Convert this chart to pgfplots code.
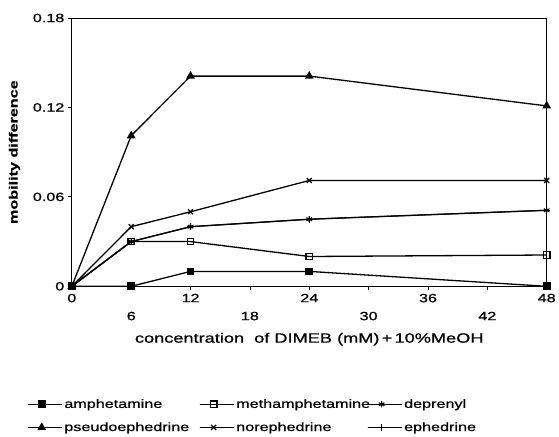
\documentclass[border=0pt]{standalone}
\usepackage{fontspec}
\setmainfont{Liberation Sans}[FakeStretch=1.35, FakeBold=0.8]
\usepackage{pgfplots}
\pgfplotsset{compat=1.18}
\begin{document}
\begin{tikzpicture}
\begin{axis}[
  scale only axis, width=476pt, height=269pt,
  xmin=0, xmax=48, ymin=0, ymax=0.18,
  clip=false,
  axis line style={line width=0.9pt},
  tick pos=left,
  tick align=outside, major tick length=4pt,
  tick style={black, line width=0.8pt},
  xtick={0,12,24,36,48}, xticklabels={0,12,24,36,48},
  extra x ticks={6,18,30,42}, extra x tick labels={6,18,30,42},
  extra x tick style={tick label style={yshift=-18pt}},
  ytick={0,0.06,0.12,0.18}, yticklabels={0,0.06,0.12,0.18},
  tick label style={font=\fontsize{12}{12}\selectfont},
  xlabel={concentration\ \ of DIMEB (mM)\,+\,10\%MeOH},
  every axis x label/.style={font=\fontsize{13.5}{14}\selectfont, at={(axis description cs:0.5,-0.197)}, anchor=center},
  ylabel={mobility difference},
  every axis y label/.style={font=\bfseries\fontsize{12}{12}\selectfont, at={(axis description cs:-0.1208,0.5)}, anchor=center, rotate=90},
  every axis plot/.append style={black, line width=1.3pt, mark options={solid}},
  legend columns=3,
  legend style={draw=none, fill=none, font=\fontsize{12}{12}\selectfont,
    at={(axis description cs:-0.1008,-0.405)}, anchor=north west,
    cells={anchor=west}, row sep=9pt,
    /tikz/every even column/.append style={column sep=0pt}},
  legend image code/.code={\draw[#1, mark repeat=2, mark phase=2] plot coordinates {(0pt,0pt) (14pt,0pt) (28pt,0pt)}; \path (0pt,0pt) -- (34pt,0pt);},
]
\addplot[mark=square*, mark size=3.2pt] coordinates {(0,0) (6,0) (12,0.01) (24,0.01) (48,0)};
\addlegendentry{\makebox[133pt][l]{amphetamine}}
\addplot[mark=square, mark size=3.2pt] coordinates {(0,0) (6,0.03) (12,0.03) (24,0.02) (48,0.021)};
\addlegendentry{\makebox[129pt][l]{methamphetamine}}
\addplot[mark=asterisk, mark size=3.2pt, line width=1.1pt] coordinates {(0,0) (6,0.03) (12,0.04) (24,0.045) (48,0.051)};
\addlegendentry{deprenyl}
\addplot[mark=triangle*, mark size=3.8pt] coordinates {(0,0) (6,0.101) (12,0.141) (24,0.141) (48,0.121)};
\addlegendentry{\makebox[133pt][l]{pseudoephedrine}}
\addplot[mark=x, mark size=3.5pt] coordinates {(0,0) (6,0.04) (12,0.05) (24,0.071) (48,0.071)};
\addlegendentry{\makebox[129pt][l]{norephedrine}}
\addplot[mark=+, mark size=3.5pt] coordinates {(0,0) (6,0.03) (12,0.04) (24,0.045) (48,0.051)};
\addlegendentry{ephedrine}
\end{axis}
\path (-72pt,-147pt) rectangle (487pt,287pt);
\end{tikzpicture}
\end{document}
